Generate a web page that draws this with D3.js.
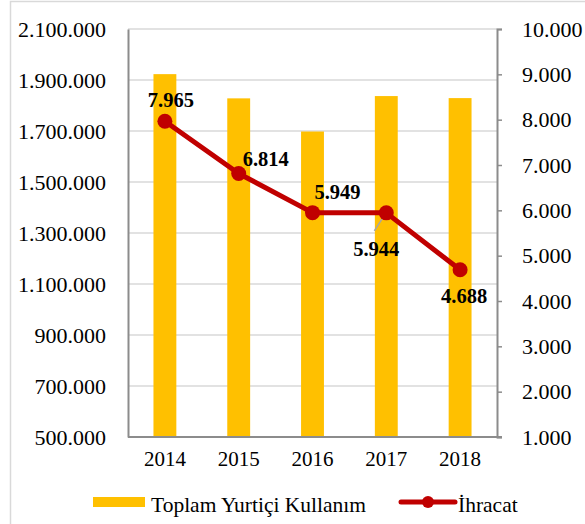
<!DOCTYPE html>
<meta charset="utf-8">
<style>
    body { margin: 0; background: #fff; }
    text { font-family: "Liberation Serif", "Times New Roman", serif; fill: #000; }
    .grid line { stroke: #d9d9d9; stroke-width: 1.5px; }
    .lbl { font-weight: bold; font-size: 20.5px; }
</style>
<svg width="585" height="524"></svg>
<script src="https://d3js.org/d3.v7.min.js"></script>
<script>

    var years = ["2014", "2015", "2016", "2017", "2018"];
    var toplam = [1923000, 1828000, 1698000, 1837000, 1829000];
    var ihracat = [7965, 6814, 5949, 5944, 4688];
    var leftTicks = [500000, 700000, 900000, 1100000, 1300000, 1500000, 1700000, 1900000, 2100000];
    var rightTicks = [1000, 2000, 3000, 4000, 5000, 6000, 7000, 8000, 9000, 10000];
    // label offsets from each point (dx, dy of baseline)
    var lblOffset = [[6, -14], [27, -7], [25, -14], [-10, 43], [4, 33]];

    var svg = d3.select("svg"),
        plotL = 128, plotR = 497, plotT = 29, plotB = 437;

    var fmt = function(v) { return d3.format(",")(v).replace(/,/g, "."); };

    // outer frame
    svg.append("rect")
        .attr("x", 10.5).attr("y", 1.5)
        .attr("width", 600).attr("height", 600)
        .attr("fill", "none").attr("stroke", "#d9d9d9").attr("stroke-width", 1.5);

    var x = d3.scaleBand().domain(years).range([plotL, plotR]).paddingInner(0.69).paddingOuter(0.345);
    var xc = d3.scaleBand().domain(years).range([plotL, plotR]);
    var yL = d3.scaleLinear().domain([500000, 2100000]).range([plotB, plotT]);
    var yR = d3.scaleLinear().domain([1000, 10000]).range([plotB, plotT]);

    // gridlines
    svg.append("g").attr("class", "grid")
        .selectAll("line").data(leftTicks).enter().append("line")
        .attr("x1", plotL).attr("x2", plotR)
        .attr("y1", function(d) { return yL(d); })
        .attr("y2", function(d) { return yL(d); });

    // bars
    svg.append("g").selectAll("rect").data(toplam).enter().append("rect")
        .attr("x", function(d, i) { return x(years[i]); })
        .attr("width", x.bandwidth())
        .attr("y", function(d) { return yL(d); })
        .attr("height", function(d) { return plotB - yL(d); })
        .attr("fill", "#ffc000");

    // left axis
    var gl = svg.append("g").attr("transform", "translate(" + plotL + ",0)")
        .call(d3.axisLeft(yL).tickValues(leftTicks).tickSize(0).tickPadding(22).tickFormat(fmt));
    gl.select(".domain").attr("stroke", "#8c8c8c").attr("stroke-width", 2);
    gl.selectAll("text").style("font-size", "22px").style("font-family", "Liberation Serif");

    // right axis
    var gr = svg.append("g").attr("transform", "translate(" + plotR + ",0)")
        .call(d3.axisRight(yR).tickValues(rightTicks).tickSizeInner(5).tickSizeOuter(5).tickPadding(20).tickFormat(fmt));
    gr.select(".domain").attr("stroke", "#8c8c8c").attr("stroke-width", 2);
    gr.selectAll("line").attr("stroke", "#8c8c8c").attr("stroke-width", 1.5);
    gr.selectAll("text").style("font-size", "22px").style("font-family", "Liberation Serif");

    // bottom axis
    var gb = svg.append("g").attr("transform", "translate(0," + plotB + ")")
        .call(d3.axisBottom(xc).tickSize(0).tickPadding(14));
    gb.select(".domain").attr("stroke", "#8c8c8c").attr("stroke-width", 2).attr("d", "M" + plotL + ",0H" + (plotR + 5));
    gb.selectAll("text").style("font-size", "21px").style("font-family", "Liberation Serif");

    // line
    var line = d3.line()
        .x(function(d, i) { return xc(years[i]) + xc.bandwidth() / 2; })
        .y(function(d) { return yR(d); });

    svg.append("path").datum(ihracat)
        .attr("d", line)
        .attr("fill", "none").attr("stroke", "#c00000").attr("stroke-width", 5)
        .attr("stroke-linejoin", "round");

    // leader line for 5.944
    var p3x = xc(years[3]) + xc.bandwidth() / 2, p3y = yR(ihracat[3]);
    svg.append("line")
        .attr("x1", p3x - 1).attr("y1", p3y + 1)
        .attr("x2", p3x - 12).attr("y2", p3y + 18)
        .attr("stroke", "#a6a6a6").attr("stroke-width", 1.5);

    svg.append("g").selectAll("circle").data(ihracat).enter().append("circle")
        .attr("cx", function(d, i) { return xc(years[i]) + xc.bandwidth() / 2; })
        .attr("cy", function(d) { return yR(d); })
        .attr("r", 7.5)
        .attr("fill", "#c00000");

    svg.append("g").selectAll("text").data(ihracat).enter().append("text")
        .attr("class", "lbl")
        .attr("text-anchor", "middle")
        .attr("x", function(d, i) { return xc(years[i]) + xc.bandwidth() / 2 + lblOffset[i][0]; })
        .attr("y", function(d, i) { return yR(d) + lblOffset[i][1]; })
        .text(fmt);

    // legend
    var lg = svg.append("g");
    lg.append("rect").attr("x", 93).attr("y", 497).attr("width", 52).attr("height", 10).attr("fill", "#ffc000");
    lg.append("text").attr("x", 151).attr("y", 512).style("font-size", "21.5px").text("Toplam Yurtiçi Kullanım");
    lg.append("line").attr("x1", 401).attr("x2", 455).attr("y1", 502).attr("y2", 502)
        .attr("stroke", "#c00000").attr("stroke-width", 5).attr("stroke-linecap", "round");
    lg.append("circle").attr("cx", 428).attr("cy", 502).attr("r", 6).attr("fill", "#c00000");
    lg.append("text").attr("x", 458).attr("y", 512).style("font-size", "21.5px").text("İhracat");

</script>
